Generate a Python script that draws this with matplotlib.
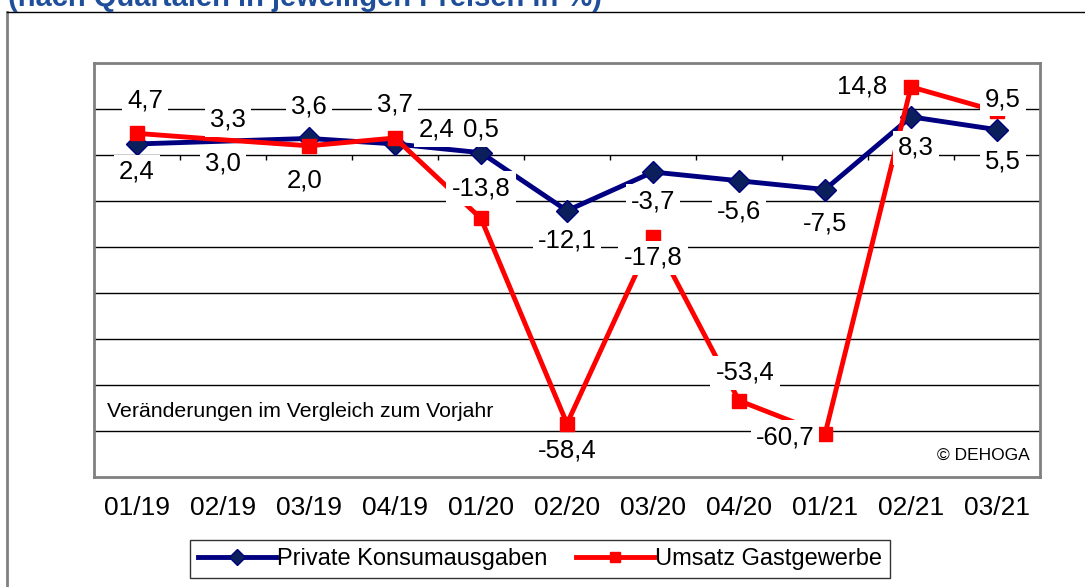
import matplotlib
matplotlib.use("Agg")
import matplotlib.pyplot as plt
from matplotlib.lines import Line2D

plt.rcParams['font.family'] = ['Liberation Sans', 'DejaVu Sans']

# data
quarters = ['01/19', '02/19', '03/19', '04/19', '01/20', '02/20',
            '03/20', '04/20', '01/21', '02/21', '03/21']
konsum = [2.4, 3.0, 3.6, 2.4, 0.5, -12.1, -3.7, -5.6, -7.5, 8.3, 5.5]
umsatz = [4.7, 3.3, 2.0, 3.7, -13.8, -58.4, -17.8, -53.4, -60.7, 14.8, 9.5]

# label offsets (pixels) relative to each point
konsum_off = [(0, -28), (0, -22), (0, 32), (42, 14), (0, 23), (0, -30),
              (0, -29), (0, -31), (0, -34), (5, -31), (6, -32)]
umsatz_off = [(8, 33), (5, 20), (-4, -35), (0, 33), (0, 30), (0, -27),
              (0, -21), (6, 28), (-40, -3), (-49, 0), (6, 12)]

W, H = 1085, 587
fig = plt.figure(figsize=(W / 100, H / 100), dpi=100)
ax = fig.add_axes([94 / W, 1 - 477 / H, (1040 - 94) / W, (477 - 63) / H])

x = [i + 0.5 for i in range(len(quarters))]
ax.set_xlim(0, len(quarters))
ax.set_ylim(-70, 20)

# gridlines
for g in range(-60, 20, 10):
    ax.axhline(g, color='black', lw=1, zorder=1)
# category ticks on the zero line
ax.vlines(range(1, len(quarters)), -1.1, 0, color='black', lw=1, zorder=1)

marks = [i for i in range(len(quarters)) if i != 1]
ax.plot(x, konsum, color='#000080', lw=3.5, marker='D', markersize=11,
        markerfacecolor='#0B1F5C', markeredgecolor='#000080',
        markevery=marks, zorder=3, label='Private Konsumausgaben')
ax.plot(x, umsatz, color='#FF0000', lw=3.5, marker='s', markersize=10,
        markerfacecolor='#FF0000', markeredgecolor='#FF0000',
        markevery=marks, zorder=4, label='Umsatz Gastgewerbe')


def fmt(v):
    return f"{v:.1f}".replace('.', ',')


box = dict(boxstyle='square,pad=0.2', fc='white', ec='none')
for xi, v, (dx, dy) in zip(x, konsum, konsum_off):
    ax.annotate(fmt(v), xy=(xi, v), xytext=(dx, dy), textcoords='offset pixels',
                ha='center', va='center', fontsize=18.5, bbox=box, zorder=6)
for xi, v, (dx, dy) in zip(x, umsatz, umsatz_off):
    ax.annotate(fmt(v), xy=(xi, v), xytext=(dx, dy), textcoords='offset pixels',
                ha='center', va='center', fontsize=18.5, bbox=box, zorder=6)

for s in ax.spines.values():
    s.set_color('#808080')
    s.set_linewidth(2)
ax.set_yticks([])
ax.set_xticks(x)
ax.set_xticklabels(quarters)
ax.tick_params(axis='x', length=0, pad=14, labelsize=19)

ax.text(0.014, 0.159, 'Veränderungen im Vergleich zum Vorjahr', transform=ax.transAxes,
        fontsize=15.3, ha='left', va='center', zorder=7)
ax.text(0.989, 0.053, '© DEHOGA', transform=ax.transAxes,
        fontsize=12.5, ha='right', va='center', zorder=7)

# outer frame and title (cut at the top edge, as in the source image)
fig.add_artist(Line2D([7 / W, 7 / W], [0, 1 - 12 / H], color='#808080', lw=2))
fig.add_artist(Line2D([7 / W, 1], [1 - 12 / H, 1 - 12 / H], color='black', lw=1))
fig.text(8 / W, 1 - 6 / H, '(nach Quartalen in jeweiligen Preisen in %)',
         fontsize=21, fontweight='bold', color='#1F4E9A', va='baseline')

leg = fig.legend(loc='center', bbox_to_anchor=(540 / W, 1 - 559 / H), ncol=2,
                 fontsize=17, frameon=True, fancybox=False, handlelength=3.3,
                 handletextpad=0.05, columnspacing=1.2, borderpad=0.35,
                 markerscale=0.7)
leg.get_frame().set_edgecolor('black')
leg.get_frame().set_linewidth(1)

fig.savefig('out.png', dpi=100)
